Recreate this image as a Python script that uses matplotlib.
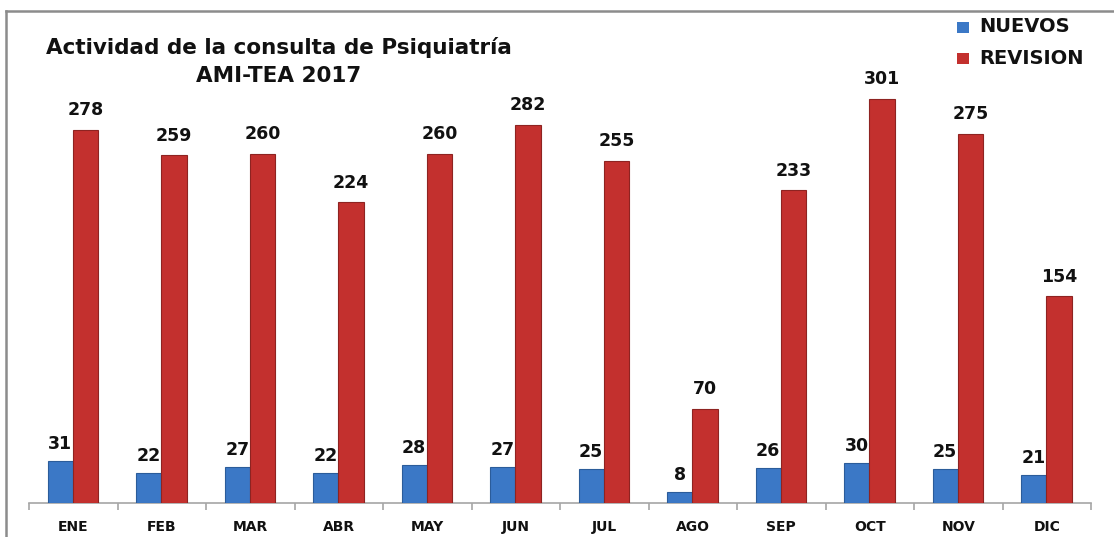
import matplotlib
matplotlib.use("Agg")
import matplotlib.pyplot as plt
import numpy as np
from matplotlib.lines import Line2D
from matplotlib.patches import Rectangle

months = ["ENE", "FEB", "MAR", "ABR", "MAY", "JUN", "JUL", "AGO", "SEP", "OCT", "NOV", "DIC"]
nuevos = [31, 22, 27, 22, 28, 27, 25, 8, 26, 30, 25, 21]
revision = [278, 259, 260, 224, 260, 282, 255, 70, 233, 301, 275, 154]

plt.rcParams['font.family'] = ['DejaVu Sans']

W, H = 1114, 537
fig = plt.figure(figsize=(W/100, H/100), dpi=100)
fig.patch.set_facecolor("white")

# axes box in pixels: x 29..1091, baseline at y=503, ylim 0..340
ymax = 340
pxu = 1.342
top_px = 503 - ymax*pxu
ax = fig.add_axes([29/W, (H-503)/H, (1091-29)/W, (503-top_px)/H])
ax.set_xlim(-0.5, 11.5)
ax.set_ylim(0, ymax)

x = np.arange(len(months))
bw = 0.285
blue = "#3b78c6"
red = "#c3302e"
ax.bar(x - bw/2 - 0.005, nuevos, bw, color=blue, edgecolor="#2b5c9a", lw=0.8, zorder=3)
ax.bar(x + bw/2 - 0.005, revision, bw, color=red, edgecolor="#8e2321", lw=0.8, zorder=3)

for i in range(len(months)):
    ax.text(x[i] - bw/2 - 0.005, nuevos[i] + 6, str(nuevos[i]), ha="center", va="bottom",
            fontsize=12.5, fontweight="bold", color="#111111", zorder=4)
    ax.text(x[i] + bw/2 - 0.005, revision[i] + 8, str(revision[i]), ha="center", va="bottom",
            fontsize=12.5, fontweight="bold", color="#111111", zorder=4)

for s in ["top", "right", "left"]:
    ax.spines[s].set_visible(False)
ax.spines["bottom"].set_color("#a6a6a6")
ax.spines["bottom"].set_linewidth(1.2)
ax.set_yticks([])
ax.set_xticks(x)
ax.set_xticklabels(months, fontsize=10, fontweight="bold", color="#111111")
ax.tick_params(axis="x", which="major", length=0, pad=12)
ax.set_xticks(np.arange(-0.5, 12, 1), minor=True)
ax.tick_params(axis="x", which="minor", length=5, color="#a6a6a6", width=1.2)

fig.text(279/W, 1 - 48/H, "Actividad de la consulta de Psiquiatría", ha="center", va="center",
         fontsize=15.5, fontweight="bold", color="#111111")
fig.text(279/W, 1 - 76/H, "AMI-TEA 2017", ha="center", va="center",
         fontsize=15.5, fontweight="bold", color="#111111")

# legend
for yy, col, lab in [(27, blue, "NUEVOS"), (58, red, "REVISION")]:
    fig.patches.append(Rectangle((957/W, 1 - (yy+6)/H), 12/W, 11/H, transform=fig.transFigure,
                                 facecolor=col, edgecolor="none"))
    fig.text(979/W, 1 - yy/H, lab, ha="left", va="center", fontsize=14,
             fontweight="bold", color="#111111")

# chart border
fig.add_artist(Line2D([6/W, 6/W], [0, 1 - 11/H], transform=fig.transFigure, color="#8c8c8c", lw=1.8))
fig.add_artist(Line2D([6/W, 1], [1 - 11/H, 1 - 11/H], transform=fig.transFigure, color="#8c8c8c", lw=1.8))

fig.savefig("out.png", dpi=100)
